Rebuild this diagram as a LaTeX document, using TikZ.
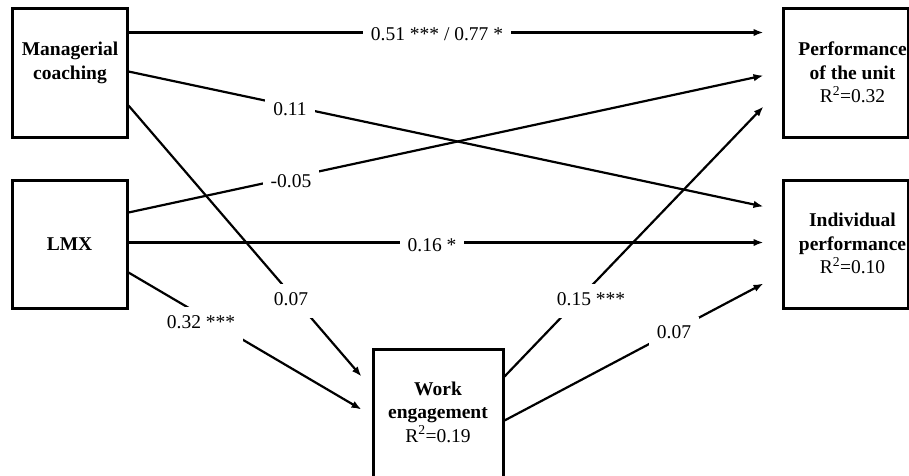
\documentclass[tikz,border=0pt]{standalone}
\usepackage{fontspec}
\setmainfont{Liberation Serif}
\usetikzlibrary{arrows.meta}
\begin{document}
\begin{tikzpicture}[x=1pt,y=-1pt,
  box/.style={draw, line width=3pt, inner sep=0pt},
  boxtext/.style={font=\fontsize{19.5}{23.5}\selectfont, align=center, inner sep=0pt},
  conn/.style={line width=2.2pt, -{Latex[length=10pt,width=7.5pt]}},
  lab/.style={fill=white, font=\fontsize{19.5}{23.5}\selectfont, inner xsep=8pt, inner ysep=8.5pt, text height=13pt, text depth=4pt}]
\useasboundingbox (0,0) rectangle (909,475);
% boxes
\node[box, minimum width=115pt, minimum height=129pt] (mc) at (69.5,72.5) {};
\node[box, minimum width=115pt, minimum height=128pt] (lmx) at (69.5,244) {};
\node[box, minimum width=125pt, minimum height=129pt] (pu) at (845.5,72.5) {};
\node[box, minimum width=125pt, minimum height=128pt] (ip) at (845.5,244) {};
\node[box, minimum width=130pt, minimum height=136pt] (we) at (438,417) {};
% box texts
\node[boxtext] (mct) at (70,63) {\textbf{Managerial}\\\textbf{coaching}};
\node[boxtext] (lmxt) at (69.5,244.5) {\textbf{LMX}};
\node[boxtext] (put) at (852.5,72.3) {\textbf{Performance}\\\textbf{of the unit}\\R\textsuperscript{2}=0.32};
\node[boxtext] (ipt) at (852.5,243.5) {\textbf{Individual}\\\textbf{performance}\\R\textsuperscript{2}=0.10};
\node[boxtext] (wet) at (438,412) {\textbf{Work}\\\textbf{engagement}\\R\textsuperscript{2}=0.19};
% connectors
\draw[conn] ([yshift=-26pt]mc.north east) -- ([xshift=-18pt,yshift=-26pt]pu.north west);
\draw[conn] ([yshift=-65pt]mc.north east) -- ([xshift=-18pt,yshift=-28pt]ip.north west);
\draw[conn] ([yshift=-99pt]mc.north east) -- ([xshift=-10pt,yshift=-29pt]we.north west);
\draw[conn] ([yshift=-34pt]lmx.north east) -- ([xshift=-18pt,yshift=-69pt]pu.north west);
\draw[conn] ([yshift=-64pt]lmx.north east) -- ([xshift=-18pt,yshift=-64pt]ip.north west);
\draw[conn] ([yshift=-94pt]lmx.north east) -- ([xshift=-10pt,yshift=-62pt]we.north west);
\draw[conn] ([yshift=-29pt]we.north east) -- ([xshift=-18pt,yshift=-100pt]pu.north west);
\draw[conn] ([yshift=-73pt]we.north east) -- ([xshift=-18pt,yshift=-105pt]ip.north west);
% labels
\node[lab] (l1) at (437,36) {0.51 *** / 0.77 *};
\node[lab] (l2) at (290,111) {0.11};
\node[lab] (l3) at (291,183) {-0.05};
\node[lab] (l4) at (432,247) {0.16 *};
\node[lab] (l5) at (291,301) {0.07};
\node[lab] (l6) at (201,324) {0.32 ***};
\node[lab] (l7) at (591,301) {0.15 ***};
\node[lab] (l8) at (674,334) {0.07};
\end{tikzpicture}
\end{document}
